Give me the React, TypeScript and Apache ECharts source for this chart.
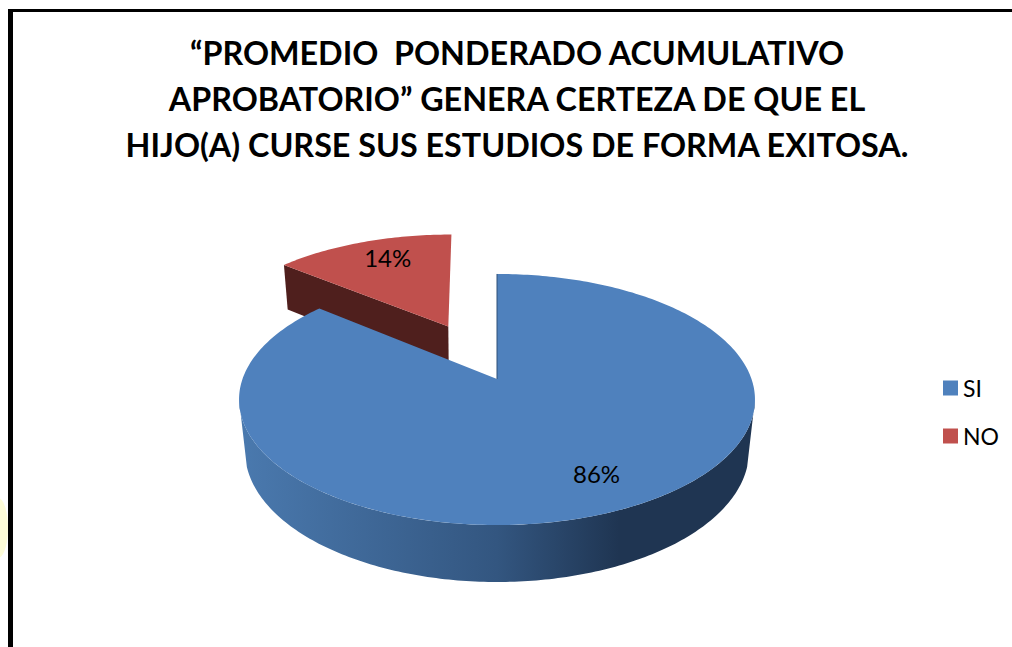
import React, { useEffect, useRef } from "react";
import * as echarts from "echarts";

const titleLines = [
  "“PROMEDIO  PONDERADO ACUMULATIVO",
  "APROBATORIO” GENERA CERTEZA DE QUE EL",
  "HIJO(A) CURSE SUS ESTUDIOS DE FORMA EXITOSA.",
];
const categories = ["SI", "NO"];
const values = [86, 14];
const topColors = ["#4f81bd", "#c0504d"];

const total = values.reduce((a, b) => a + b, 0);
const deg = Math.PI / 180;

// Projection of the tilted disc on the screen
const CX = 497, CY = 379, A = 254.5, B = 122.2, K = 0.1633;
const DEPTH = 51, FAR = 0.98;
const SHIFT = [[0, 0], [-0.1, -0.4525]];
const NUDGE = [[0, 0], [-25, -1]];
const LABEL_R = [0.78, 0.79];
const LABEL_NUDGE = [[4, -3], [9, -1]];
const FLOOR = { cx: 497, cy: 451, rx: 252, ry: 131, from: 7, to: 173 };
const RIM = { from: 99.4, to: 260.6 };

function project(u: number, v: number, bottom: boolean): number[] {
  const w = 1 - K * v;
  const s = bottom ? FAR : 1;
  return [CX + (s * A * u) / w, CY + (s * (B * v + (bottom ? DEPTH : 0))) / w];
}

function renderSlice(index: number) {
  return (_params: any, api: any) => {
    const value = api.value(0);
    let before = 0;
    for (let i = 0; i < index; i++) before += values[i];
    const a0 = (before / total) * 360;
    const a1 = a0 + (value / total) * 360;
    const [ox, oy] = SHIFT[index];
    const [nx, ny] = NUDGE[index];
    const pt = (theta: number, r: number, bottom: boolean) => {
      const p = project(Math.sin(theta * deg) * r + ox, -Math.cos(theta * deg) * r + oy, bottom);
      return [p[0] + nx, p[1] + ny];
    };
    const arc = (from: number, to: number) => {
      const pts: number[][] = [];
      const n = Math.max(2, Math.ceil(Math.abs(to - from)));
      for (let i = 0; i <= n; i++) pts.push(pt(from + ((to - from) * i) / n, 1, false));
      return pts;
    };
    const children: any[] = [];
    if (index === 0) {
      // Outer wall: from the rim of the top face down to the floor curve
      const floor: number[][] = [];
      for (let t = FLOOR.from; t <= FLOOR.to; t++) {
        floor.push([
          FLOOR.cx + FLOOR.rx * Math.cos(t * deg),
          FLOOR.cy + FLOOR.ry * Math.sin(t * deg),
        ]);
      }
      children.push({
        type: "polygon",
        shape: { points: [...arc(RIM.to, RIM.from), ...floor] },
        style: {
          fill: new echarts.graphic.LinearGradient(
            242, 0, 752, 0,
            [
              { offset: 0, color: "#4a79ae" },
              { offset: 0.5, color: "#335680" },
              { offset: 0.74, color: "#1f3552" },
              { offset: 1, color: "#1f3552" },
            ],
            true
          ),
        },
      });
    } else {
      const c0 = pt(0, 0, false);
      const c1 = pt(0, 0, true);
      const e0 = pt(a0, 1, false);
      const e1 = pt(a0, 1, true);
      children.push({
        type: "polygon",
        shape: { points: [c0, e0, e1, c1] },
        style: { fill: "#4f1f1d" },
      });
    }
    children.push({
      type: "polygon",
      shape: { points: [pt(0, 0, false), ...arc(a0, a1)] },
      style: { fill: topColors[index] },
    });
    if (index === 0) {
      children.push({
        type: "polyline",
        shape: { points: [pt(0, 0, false), pt(0, 1, false)] },
        style: { stroke: "#2f5078", lineWidth: 1, fill: "none" },
      });
    }
    const lp = pt((a0 + a1) / 2, LABEL_R[index], false);
    children.push({
      type: "text",
      x: lp[0] + LABEL_NUDGE[index][0],
      y: lp[1] + LABEL_NUDGE[index][1],
      style: {
        text: `${value}%`,
        font: "24px Lato, Carlito, sans-serif",
        fill: "#000",
        align: "center",
        verticalAlign: "middle",
      },
    });
    return { type: "group", children };
  };
}

export default function App() {
  const ref = useRef<HTMLDivElement>(null);
  useEffect(() => {
    const chart = echarts.init(ref.current!, null, { renderer: "svg" });
    chart.setOption({
      animation: false,
      backgroundColor: "#fff",
      title: {
        text: titleLines.join("\n"),
        left: 512,
        top: 24,
        textAlign: "center",
        textStyle: {
          fontFamily: "Lato, Carlito, sans-serif",
          fontWeight: "bold",
          fontSize: 32.3,
          lineHeight: 46,
          color: "#000",
        },
      },
      legend: {
        orient: "vertical",
        left: 943,
        top: 375,
        padding: 0,
        icon: "rect",
        itemWidth: 15,
        itemHeight: 15,
        itemGap: 22,
        selectedMode: false,
        data: categories,
        textStyle: {
          fontFamily: "Lato, Carlito, sans-serif",
          fontSize: 23,
          lineHeight: 24,
          color: "#000",
          padding: [0, 0, 2, 0],
        },
      },
      graphic: [
        { type: "ellipse", shape: { cx: -2, cy: 528, rx: 10, ry: 30 }, style: { fill: "#fdfcd8" }, z: 0 },
        { type: "rect", shape: { x: 8, y: 9, width: 1004, height: 3 }, style: { fill: "#000" }, z: 10 },
        { type: "rect", shape: { x: 8, y: 9, width: 5, height: 638 }, style: { fill: "#000" }, z: 10 },
      ],
      series: [1, 0].map((i) => ({
        type: "custom",
        name: categories[i],
        coordinateSystem: "none",
        color: topColors[i],
        itemStyle: { color: topColors[i] },
        data: [[values[i]]],
        renderItem: renderSlice(i),
      })),
    });
    return () => chart.dispose();
  }, []);
  return <div ref={ref} style={{ position: "fixed", left: 0, top: 0, width: 1012, height: 647 }} />;
}
